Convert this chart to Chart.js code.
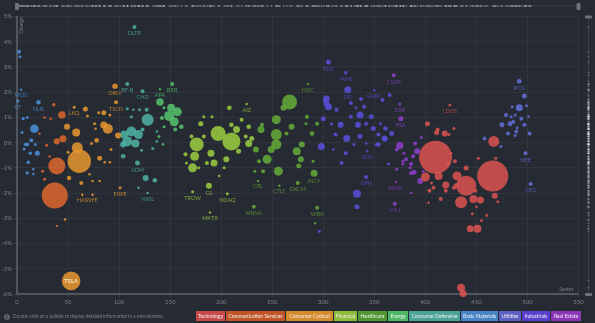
<!DOCTYPE html>
<html>
<head>
<meta charset="utf-8">
<title>Sector map</title>
<script src="https://cdn.jsdelivr.net/npm/chart.js@4.4.0/dist/chart.umd.min.js"></script>
<style>
  html, body { margin: 0; padding: 0; background: #262a33; }
  #wrap { position: relative; width: 595px; height: 323px; overflow: hidden; font-family: Lato, "Open Sans", sans-serif; }
  #chart { position: absolute; left: 0; top: 0; }
  .note { position: absolute; left: 4px; top: 312px; font-size: 4.7px; color: #7b808b; line-height: 8px; white-space: nowrap; }
  .note .i { display: inline-block; width: 6px; height: 6px; border-radius: 50%; background: #5b606b; color: #262a33; font-size: 5px; font-weight: bold; text-align: center; line-height: 6px; margin-right: 3px; vertical-align: middle; }
  #legend { position: absolute; top: 311px; left: 196px; height: 10px; display: flex; gap: 1px; }
  #legend span { display: block; font-size: 5px; color: #f0f0f0; line-height: 10px; text-align: center; white-space: nowrap; }
</style>
</head>
<body>
<div id="wrap">
  <canvas id="chart" width="595" height="323"></canvas>
  <div class="note"><span class="i">i</span>Double click on a bubble to display detailed information in a new window.</div>
  <div id="legend"></div>
</div>
<script>
// [position in list, change %, market cap $B, ticker]
const basicMaterials = [
    [2, 3.6, 39], [3, 3.4, 22], [4, 2.1, 14, 'MOS'], [1, 1.65, 22, 'CF'], [21, 1.6, 52, 'NUE'],
    [6, 0.95, 28], [10, 1.0, 22], [17, 0.55, 180], [5, 0.4, 22], [10, -0.07, 39], [14, 0.09, 39],
    [7, -0.25, 22], [13, -0.42, 28], [20, -0.42, 61], [11, -0.78, 32], [10, -1.2, 28], [16, -1.05, 16],
    [18, -0.07, 22], [8, -0.07, 22], [16, -1.24, 16]
];
const communicationServices = [
    [36, 1.5, 28], [44, 1.1, 134], [27, 1.0, 16], [33, 0.95, 16], [22, 0.35, 16], [39, 0.05, 88],
    [45, 0.15, 120], [29, -0.1, 22], [32, -0.55, 16], [39, -0.93, 705], [25, -1.13, 22], [27, -1.45, 22],
    [37, -2.1, 1650], [39, -3.3, 14]
];
const consumerCyclical = [
    [96, 2.24, 71, 'ORLY'], [97, 1.6, 39, 'TSCO'], [56, 1.4, 22, 'LKQ'], [67, 1.33, 61], [69, 1.06, 22],
    [80, 1.18, 22], [85, 1.18, 61], [91, 1.1, 22], [49, 0.63, 88], [58, 0.4, 156], [76, 0.75, 22],
    [77, 0.55, 16], [89, 0.55, 244], [85, 0.7, 120], [73, -0.03, 22], [78, 0.09, 52], [99, 0.28, 88],
    [92, -0.27, 22], [61, -0.74, 1337], [59, -0.2, 295], [50, -0.38, 22], [81, -0.62, 61], [86, -0.78, 16],
    [91, -0.78, 16], [71, -1.25, 16], [81, -1.52, 16], [51, -1.4, 47], [63, -1.6, 39], [74, -1.52, 16],
    [101, -1.79, 22, 'EXPE'], [64, -2.07, 16, 'HAS'], [74, -2.07, 16, 'NFE'], [47, -3.05, 16],
    [53, -5.48, 845, 'TSLA']
];
const consumerDefensive = [
    [115, 4.58, 39, 'DLTR'], [108, 2.32, 39, 'BF-B'], [123, 2.04, 39, 'CHD'], [108, 1.34, 22], [114, 1.3, 16],
    [120, 1.3, 22], [127, 1.3, 39], [112, 1.03, 22], [128, 0.91, 352], [105, 0.32, 156], [112, 0.44, 244],
    [119, 0.32, 198], [108, 0.05, 244], [116, -0.03, 156], [104, -0.07, 88], [123, 0.52, 39], [122, -0.3, 22],
    [133, -0.23, 22], [137, 0.05, 16], [137, 0.44, 16], [118, -0.81, 61, 'ADM'], [104, -0.54, 52],
    [126, -1.4, 88], [135, -1.49, 52], [119, -1.79, 16], [128, -2.0, 16, 'NWL']
];
const energy = [
    [140, 2.12, 14, 'APA'], [140, 1.61, 141], [152, 2.32, 39, 'BKR'], [144, 1.38, 22], [151, 1.38, 156],
    [157, 1.22, 198], [149, 1.06, 244], [154, 0.83, 198], [161, 0.63, 52], [155, 0.52, 39], [142, 0.98, 39],
    [144, 0.63, 22], [139, 0.24, 22], [143, -0.07, 16]
];
const financial = [
    [225, 1.53, 14, 'AIZ'], [208, 1.38, 52], [191, 1.03, 22], [210, 0.71, 52], [220, 0.91, 39], [227, 0.63, 52],
    [197, 0.36, 549], [210, 0.05, 791], [176, -0.07, 479], [183, 0.24, 39], [190, -0.42, 120], [174, -0.54, 198],
    [172, -1.0, 198], [193, -0.81, 120], [205, -0.66, 88], [227, -0.03, 120], [230, 0.16, 61], [224, 0.24, 39],
    [166, -0.81, 22], [186, -0.81, 39], [178, -1.0, 22], [203, -1.0, 22], [198, -1.32, 16],
    [172, -1.95, 22, 'TROW'], [188, -1.71, 88, 'GS'], [206, -2.03, 22, 'NDAQ'], [189, -2.77, 14, 'MKTX'],
    [171, 0.24, 39], [165, -0.46, 39], [183, 1.03, 22], [217, -0.34, 61], [215, 0.52, 120], [180, 0.75, 61]
];
const healthcare = [
    [285, 2.32, 14, 'HSIC'], [267, 1.61, 549], [261, 1.38, 88], [254, 0.91, 198], [240, 0.71, 39], [239, 0.52, 120],
    [254, 0.32, 295], [254, -0.07, 244], [249, -0.27, 120], [245, -0.66, 198], [256, -1.13, 198], [234, -0.27, 88],
    [237, -0.74, 39], [233, -1.13, 22], [241, -1.13, 39], [264, 0.36, 39], [269, 0.63, 88], [274, -0.34, 156],
    [279, -0.07, 88], [278, -0.66, 88], [276, -0.93, 61], [284, 1.03, 39], [283, 0.75, 22], [289, 0.36, 52],
    [294, 0.75, 39], [290, -0.74, 22], [291, -1.21, 120, 'INCY'], [236, -1.52, 14, 'CRL'], [257, -1.71, 14, 'CTLT'],
    [275, -1.6, 39, 'DXCM'], [232, -2.54, 39, 'MRNA'], [294, -2.58, 39, 'WBA'], [292, -3.2, 14]
];
const industrials = [
    [305, 3.2, 61, 'TDG'], [322, 2.77, 32, 'PWR'], [324, 2.1, 120, 'DE'], [350, 2.08, 14, 'GNRC'], [337, 1.73, 39],
    [365, 1.89, 39], [358, 1.69, 39], [303, 1.73, 120], [303, 1.57, 88], [305, 1.42, 120], [313, 1.3, 39],
    [327, 1.57, 39], [332, 1.38, 16], [340, 1.42, 39], [300, 0.95, 61], [308, 0.75, 22], [317, 0.71, 88],
    [312, 0.32, 39], [323, 0.16, 120], [334, 0.71, 88], [336, 1.1, 120], [327, 1.03, 39], [336, 0.24, 61],
    [342, 0.75, 39], [347, 1.03, 61], [349, 0.56, 61], [354, 0.32, 39], [361, 0.56, 52], [356, 0.75, 22],
    [361, 0.12, 39], [367, 0.36, 61], [330, -0.07, 22], [298, -0.15, 120], [310, -0.27, 16], [322, -0.42, 39],
    [342, -0.03, 16], [352, -0.07, 22], [343, -0.34, 14, 'AOS'], [318, -0.81, 39], [342, -1.36, 39, 'GPN'],
    [333, -2.03, 156], [333, -2.54, 61], [296, -3.51, 22], [360, 0.16, 88], [354, -0.07, 52], [364, -0.85, 22]
];
const realEstate = [
    [369, 2.67, 39, 'CSGP'], [375, 1.53, 22, 'EXR'], [376, 0.95, 61, 'PSA'], [375, -0.11, 120], [372, -0.27, 39],
    [379, -0.42, 22], [381, -0.66, 39], [378, -0.74, 22], [390, -0.03, 39], [392, -0.34, 88], [396, 0.2, 22],
    [388, -0.54, 39], [386, -0.85, 39], [385, -1.0, 22], [389, -1.17, 61], [386, -1.21, 39], [395, -1.52, 88],
    [378, -0.85, 22], [372, -1.05, 22], [371, -1.56, 16, 'PEAK'], [370, -2.42, 39, 'VICI'], [386, -1.99, 16],
    [398, -1.13, 22]
];
const technology = [
    [424, 1.49, 22, 'LDOS'], [402, 0.75, 61], [412, 0.52, 39], [411, 0.4, 61], [419, 0.36, 88], [423, 0.32, 22],
    [428, 0.56, 22], [410, -0.58, 2659], [425, -0.42, 22], [422, -0.85, 39], [400, -1.36, 198], [413, -1.32, 156],
    [420, -1.68, 120], [431, -1.32, 198], [440, -1.71, 977], [435, -2.36, 352], [447, -2.23, 156], [454, -2.27, 120],
    [466, -1.32, 2346], [467, 0.05, 295], [468, -2.11, 88], [471, -2.34, 22], [404, -1.91, 39], [415, -2.23, 39],
    [403, -2.38, 16], [446, -2.82, 22], [455, -3.09, 22], [460, -2.89, 22], [444, -3.41, 120], [451, -3.41, 156],
    [435, -5.75, 156], [437, -5.98, 120], [452, -0.62, 22], [469, -0.62, 22], [449, -1.91, 39], [450, -2.54, 16],
    [440, -1.01, 61], [428, -1.79, 39], [406, -1.6, 22], [408, -1.79, 39], [430, -1.71, 61], [420, -1.91, 39],
    [429, -0.74, 39]
];
const utilities = [
    [492, 2.43, 52, 'PCG'], [497, 1.85, 61], [492, 1.38, 120], [499, 1.46, 22], [485, 1.42, 22], [479, 1.1, 39],
    [484, 1.03, 22], [488, 1.1, 22], [494, 0.95, 39], [501, 1.03, 16], [475, 0.71, 61], [483, 0.75, 61],
    [486, 0.83, 39], [490, 0.59, 22], [497, 0.71, 39], [481, 0.36, 39], [489, 0.44, 39], [488, 0.28, 22],
    [502, 0.36, 39], [474, -0.15, 22], [498, -0.42, 39, 'NEE'], [503, -1.64, 39, 'CEG'], [458, 0.16, 39]
];

// legend order as shown under the chart
const sectorNames = ['Technology', 'Communication Services', 'Consumer Cyclical', 'Financial', 'Healthcare', 'Energy',
    'Consumer Defensive', 'Basic Materials', 'Utilities', 'Industrials', 'Real Estate'];
const sectorData = [technology, communicationServices, consumerCyclical, financial, healthcare, energy,
    consumerDefensive, basicMaterials, utilities, industrials, realEstate];
const sectorColors = ['#dc5450', '#df682e', '#e8982f', '#9ccf3f', '#65ab38', '#55c66c',
    '#4fb3a3', '#4a91d9', '#646fdb', '#5a50dd', '#9040cf'];
const legendColors = ['#c9484b', '#c25527', '#d68b2c', '#8cbc3a', '#4f9830', '#4cb864',
    '#4aa396', '#4784c6', '#5c60c2', '#5a40cf', '#8b35b9'];
const legendWidths = [29, 59, 47, 23, 29, 20, 51, 37, 22, 28, 30];

const xTicks = { min: 0, max: 550, step: 50 };
const yTicks = { min: -6, max: 5, step: 1 };

// bubble size follows market cap
function capRadius(cap) {
    return Math.max(1.2, 0.32 * Math.sqrt(cap));
}

function hexAlpha(hex, a) {
    const n = parseInt(hex.slice(1), 16);
    return `rgba(${n >> 16}, ${(n >> 8) & 255}, ${n & 255}, ${a})`;
}

// legend boxes
const legend = document.getElementById('legend');
sectorNames.forEach((name, i) => {
    const box = document.createElement('span');
    box.textContent = name;
    box.style.width = legendWidths[i] + 'px';
    box.style.background = legendColors[i];
    legend.appendChild(box);
});

const datasets = sectorNames.map((name, i) => ({
    label: name,
    data: sectorData[i].map(p => ({ x: p[0], y: p[1], r: capRadius(p[2]), ticker: p[3] })),
    backgroundColor: hexAlpha(sectorColors[i], 0.85),
    hoverBackgroundColor: hexAlpha(sectorColors[i], 1),
    borderWidth: 0,
    clip: false
}));

// tickers, range bars and axis names
const overlay = {
    id: 'overlay',
    afterDatasetsDraw(chart) {
        const ctx = chart.ctx;
        ctx.save();
        ctx.font = '5.5px Lato';
        ctx.textAlign = 'center';
        ctx.textBaseline = 'middle';
        chart.data.datasets.forEach((ds, i) => {
            const meta = chart.getDatasetMeta(i);
            meta.data.forEach((el, j) => {
                const t = ds.data[j].ticker;
                if (!t) return;
                const r = ds.data[j].r;
                if (r > 6) {
                    ctx.fillStyle = '#f6e3b8';
                    ctx.font = 'bold 6px Lato';
                    ctx.fillText(t, el.x, el.y);
                    ctx.font = '5.5px Lato';
                } else {
                    ctx.fillStyle = hexAlpha(sectorColors[i], 0.75);
                    ctx.fillText(t, el.x, el.y + r + 4.5);
                }
            });
        });
        ctx.restore();
    },
    afterDraw(chart) {
        const ctx = chart.ctx;
        const area = chart.chartArea;
        const xs = chart.scales.x, ys = chart.scales.y;
        ctx.save();

        // top range bar
        ctx.fillStyle = '#3b3f49';
        ctx.fillRect(area.left, 5.5, area.right - area.left, 1);
        // right range bar
        ctx.fillRect(588, area.top + 2, 1, area.bottom - area.top - 2);
        ctx.fillStyle = 'rgba(225, 228, 235, 0.3)';
        sectorData.forEach(list => list.forEach(p => {
            ctx.fillRect(xs.getPixelForValue(p[0]) - 0.5, 5, 1.5, 2);
            ctx.fillRect(587.5, ys.getPixelForValue(p[1]) - 0.5, 2, 1);
        }));
        ctx.fillStyle = '#6d717b';
        ctx.beginPath();
        ctx.roundRect(area.left - 2, 3, 4, 7, 1);
        ctx.roundRect(area.right - 2, 3, 4, 7, 1);
        ctx.roundRect(585, area.top - 1, 7, 3, 1);
        ctx.roundRect(585, area.bottom - 1, 7, 3, 1);
        ctx.fill();

        // axis names
        ctx.fillStyle = '#7c818c';
        ctx.font = '5px Lato';
        ctx.textBaseline = 'middle';
        ctx.textAlign = 'right';
        ctx.fillText('Sector', area.right - 5, area.bottom - 5);
        ctx.translate(area.left + 4, area.top + 9);
        ctx.rotate(-Math.PI / 2);
        ctx.textAlign = 'center';
        ctx.fillText('Change', 0, 0);
        ctx.restore();
    }
};

new Chart(document.getElementById('chart'), {
    type: 'bubble',
    data: { datasets: datasets },
    options: {
        responsive: false,
        animation: false,
        devicePixelRatio: 1,
        layout: { padding: { top: 13, right: 14, left: 0, bottom: 0 } },
        plugins: {
            legend: { display: false },
            tooltip: { enabled: true }
        },
        scales: {
            x: {
                type: 'linear',
                min: xTicks.min,
                max: xTicks.max,
                afterFit: s => { s.height = 29; },
                ticks: { stepSize: xTicks.step, color: '#7c818c', font: { family: 'Lato', size: 6 }, padding: 1, maxRotation: 0 },
                grid: { color: '#30343d', tickColor: '#3a3e47', tickLength: 3 },
                border: { color: '#51555f', width: 2 }
            },
            y: {
                min: yTicks.min,
                max: yTicks.max,
                afterFit: s => { s.width = 17; },
                ticks: { stepSize: yTicks.step, color: '#7c818c', font: { family: 'Lato', size: 6 }, padding: 1,
                    callback: v => v + '%' },
                grid: { color: '#30343d', tickColor: '#3a3e47', tickLength: 4 },
                border: { color: '#51555f', width: 2 }
            }
        }
    },
    plugins: [overlay]
});
</script>
</body>
</html>
